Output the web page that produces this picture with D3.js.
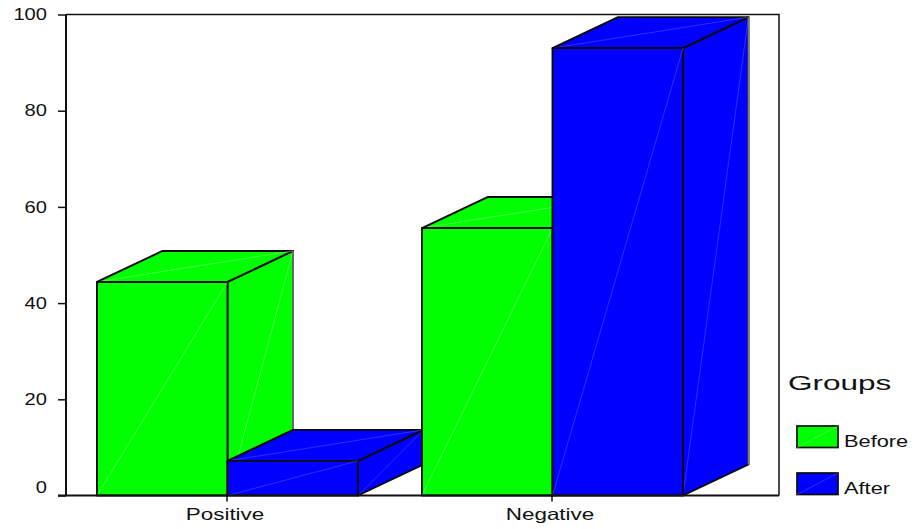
<!DOCTYPE html>
<html><head><meta charset="utf-8"><style>html,body{margin:0;padding:0;background:#fff}svg{display:block}text{font-family:"Liberation Sans",Arial,sans-serif;fill:#111}</style>
<script src="https://cdnjs.cloudflare.com/ajax/libs/d3/7.8.5/d3.min.js"></script></head><body><svg id="c" width="915" height="529"></svg>
<script>
const categories=["Positive","Negative"];
const groups=["Before","After"];
const beforeValues=[44.4,55.6];
const afterValues=[7.2,93];
const yTicks=[0,20,40,60,80,100];
const legendTitle="Groups";
const colors=d3.scaleOrdinal(groups,["#00ff00","#0000ff"]);
const diag=d3.scaleOrdinal(groups,["#9cff9c","#6a6aff"]);
const seriesByGroup={Before:beforeValues,After:afterValues};
const svg=d3.select("#c");
const y=d3.scaleLinear().domain([0,100]).range([495.5,14.5]);
const x=d3.scaleBand().domain(categories).range([64.5,714.5]);
const gx=d3.scaleBand().domain(groups).range([-130,131]);
const dx=65.5,dy=-31;
const L=66,R=779;
const line=d3.line();
function stretch(sel,f){sel.each(function(){this.setAttribute("textLength",this.getComputedTextLength()*f);this.setAttribute("lengthAdjust","spacingAndGlyphs");});}
// frame
svg.append("path").attr("d",line([[R,y(0)],[R,y(100)],[L,y(100)]])).attr("fill","none").attr("stroke","#111").attr("stroke-width",1.5);
svg.append("path").attr("d",line([[L,y(100)],[L,y(0)]])).attr("fill","none").attr("stroke","#111").attr("stroke-width",2);
const marks=[];
categories.forEach((c,i)=>groups.forEach(g=>marks.push({c,g,v:seriesByGroup[g][i]})));
marks.forEach(m=>{
  const x0=x(m.c)+x.bandwidth()/2+gx(m.g),x1=x0+gx.bandwidth(),y0=y(0),y1=y(m.v);
  const G=svg.append("g");
  const faces=[
    {p:[[x1,y0],[x1+dx,y0+dy],[x1+dx,y1+dy],[x1,y1]],d:[[x1,y0],[x1+dx,y1+dy]]},
    {p:[[x0,y1],[x1,y1],[x1+dx,y1+dy],[x0+dx,y1+dy]],d:[[x0,y1],[x1+dx,y1+dy]]},
    {p:[[x0,y0],[x1,y0],[x1,y1],[x0,y1]],d:[[x0,y0],[x1,y1]]}
  ];
  faces.forEach(f=>{
    G.append("path").attr("d",line(f.p)+"Z").attr("fill",colors(m.g)).attr("stroke","#0a0a0a").attr("stroke-width",1.9).attr("stroke-linejoin","round");
    G.append("path").attr("d",line(f.d)).attr("stroke",diag(m.g)).attr("stroke-width",0.45).attr("fill","none");
  });
  G.append("path").attr("d",line([[x1+dx,y0+dy],[x1+dx,y1+dy]])).attr("stroke","#777").attr("stroke-width",1.7);
});
// axes
const yAxis=svg.append("g").attr("transform",`translate(${L},0)`).call(d3.axisLeft(y).tickValues(yTicks).tickSize(8).tickPadding(11));
const xAxis=svg.append("g").attr("transform",`translate(0,${y(0)})`).call(d3.axisBottom(x).tickSize(6).tickSizeOuter(0).tickPadding(7));
[yAxis,xAxis].forEach(a=>{a.select(".domain").remove();a.selectAll(".tick line").attr("stroke","#111").attr("stroke-width",1.5);a.selectAll("text").attr("font-size",16.5).attr("fill","#111").style("font-family",'"Liberation Sans",Arial,sans-serif');});
stretch(yAxis.selectAll("text"),1.22);
stretch(xAxis.selectAll("text"),1.36);
xAxis.selectAll("text").attr("dx",-2);
svg.append("path").attr("d",line([[L-8,y(0)],[R,y(0)]])).attr("stroke","#111").attr("stroke-width",2);
yAxis.selectAll(".tick").filter(d=>d===0).select("text").attr("dy","-0.2em");
// legend
const title=svg.append("text").attr("x",788).attr("y",390).attr("font-size",21).text(legendTitle);
stretch(title,1.5);
groups.forEach((g,i)=>{
  const top=426+i*47,G=svg.append("g");
  G.append("rect").attr("x",797).attr("y",top).attr("width",41).attr("height",21.5).attr("fill",colors(g)).attr("stroke","#0a0a0a").attr("stroke-width",1.7);
  G.append("path").attr("d",line([[797,top+21.5],[838,top]])).attr("stroke",diag(g)).attr("stroke-width",0.45);
  const t=G.append("text").attr("x",844).attr("y",top+21).attr("font-size",16.5).text(g);
  stretch(t,1.32);
});
</script></body></html>
